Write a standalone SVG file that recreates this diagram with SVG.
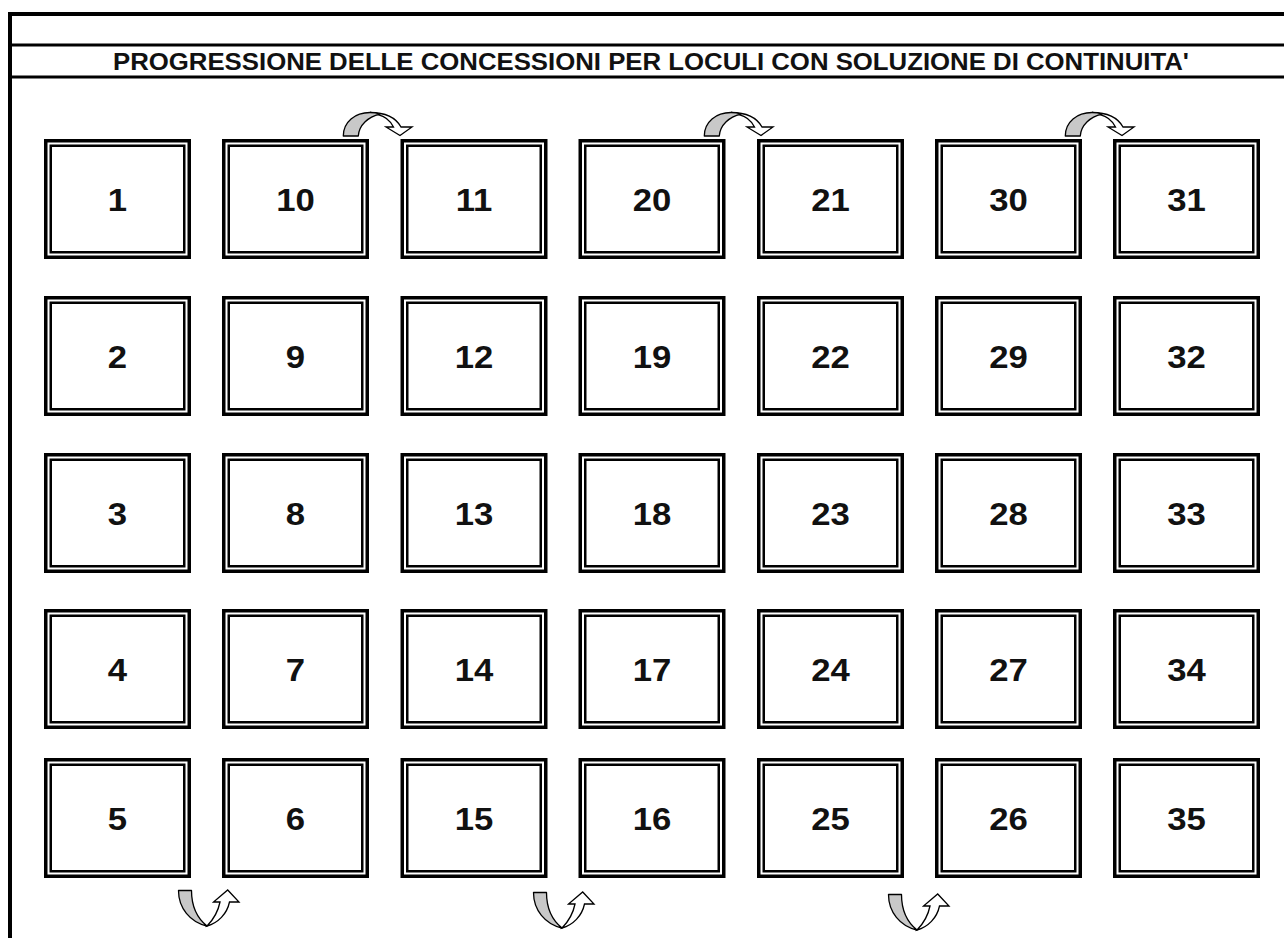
<svg xmlns="http://www.w3.org/2000/svg" xmlns:xlink="http://www.w3.org/1999/xlink" width="1284" height="938" viewBox="0 0 1284 938">
<style>
.bg{fill:#ffffff}
.rule{stroke:#000;fill:none}
.outer{fill:#fff;stroke:#000;stroke-width:3.5}
.inner{fill:none;stroke:#000;stroke-width:2.5}
.num{font-family:"Liberation Sans",Arial,sans-serif;font-weight:bold;font-size:31px;fill:#111;text-anchor:middle}
.title{font-family:"Liberation Sans",Arial,sans-serif;font-weight:bold;font-size:23px;fill:#111}
.gray{fill:#c8c8c8;stroke:#000;stroke-width:1.3;stroke-linejoin:round}
.white{fill:#fff;stroke:#000;stroke-width:1.3;stroke-linejoin:miter}
</style>
<defs>
<g id="frame">
<rect class="outer" x="1.75" y="1.75" width="143.5" height="116.5"/>
<rect class="inner" x="6.75" y="6.75" width="133.5" height="106.5"/>
</g>
<g id="arrowTop">
<path class="white" d="M370,112.5 C385,112.5 396,118 401,127 L412,127 L400,135.5 L386,127 L393.5,127 C390,120 384,116 378,114.6 Z"/>
<path class="gray" d="M343.3,136 C343.3,122 355,112.5 370,112.5 C374,112.5 377,113 380,114 C368,117 359,125 358.3,136 Z"/>
</g>
<g id="arrowBottom">
<path class="white" d="M207,926 C218,923 227,914 229.5,902 L239,902 L227.7,890 L213.5,902 L220,902 C218,912 213,920 207,926 Z"/>
<path class="gray" d="M178.5,890.5 L191.5,890.5 C191.5,905 197,918 207,926 C190,922 178.5,908 178.5,890.5 Z"/>
</g>
</defs>
<rect class="bg" x="0" y="0" width="1284" height="938"/>
<g id="sheet">
<line class="rule" x1="8" y1="14" x2="1284" y2="14" stroke-width="4"/>
<line class="rule" x1="10" y1="12" x2="10" y2="938" stroke-width="4"/>
<line class="rule" x1="10" y1="45" x2="1284" y2="45" stroke-width="3"/>
<line class="rule" x1="10" y1="77" x2="1284" y2="77" stroke-width="3"/>
<text class="title" x="113" y="69.5" textLength="1076" lengthAdjust="spacingAndGlyphs">PROGRESSIONE DELLE CONCESSIONI PER LOCULI CON SOLUZIONE DI CONTINUITA'</text>
</g>
<g id="nodes">
<g id="n1"><use xlink:href="#frame" x="44" y="139"/><text class="num" transform="translate(117.5,210.5) scale(1.12,1)">1</text></g>
<g id="n10"><use xlink:href="#frame" x="222" y="139"/><text class="num" transform="translate(295.5,210.5) scale(1.12,1)">10</text></g>
<g id="n11"><use xlink:href="#frame" x="400.5" y="139"/><text class="num" transform="translate(474,210.5) scale(1.12,1)">11</text></g>
<g id="n20"><use xlink:href="#frame" x="578.5" y="139"/><text class="num" transform="translate(652,210.5) scale(1.12,1)">20</text></g>
<g id="n21"><use xlink:href="#frame" x="757" y="139"/><text class="num" transform="translate(830.5,210.5) scale(1.12,1)">21</text></g>
<g id="n30"><use xlink:href="#frame" x="935" y="139"/><text class="num" transform="translate(1008.5,210.5) scale(1.12,1)">30</text></g>
<g id="n31"><use xlink:href="#frame" x="1113" y="139"/><text class="num" transform="translate(1186.5,210.5) scale(1.12,1)">31</text></g>

<g id="n2"><use xlink:href="#frame" x="44" y="296"/><text class="num" transform="translate(117.5,367.5) scale(1.12,1)">2</text></g>
<g id="n9"><use xlink:href="#frame" x="222" y="296"/><text class="num" transform="translate(295.5,367.5) scale(1.12,1)">9</text></g>
<g id="n12"><use xlink:href="#frame" x="400.5" y="296"/><text class="num" transform="translate(474,367.5) scale(1.12,1)">12</text></g>
<g id="n19"><use xlink:href="#frame" x="578.5" y="296"/><text class="num" transform="translate(652,367.5) scale(1.12,1)">19</text></g>
<g id="n22"><use xlink:href="#frame" x="757" y="296"/><text class="num" transform="translate(830.5,367.5) scale(1.12,1)">22</text></g>
<g id="n29"><use xlink:href="#frame" x="935" y="296"/><text class="num" transform="translate(1008.5,367.5) scale(1.12,1)">29</text></g>
<g id="n32"><use xlink:href="#frame" x="1113" y="296"/><text class="num" transform="translate(1186.5,367.5) scale(1.12,1)">32</text></g>

<g id="n3"><use xlink:href="#frame" x="44" y="453"/><text class="num" transform="translate(117.5,524.5) scale(1.12,1)">3</text></g>
<g id="n8"><use xlink:href="#frame" x="222" y="453"/><text class="num" transform="translate(295.5,524.5) scale(1.12,1)">8</text></g>
<g id="n13"><use xlink:href="#frame" x="400.5" y="453"/><text class="num" transform="translate(474,524.5) scale(1.12,1)">13</text></g>
<g id="n18"><use xlink:href="#frame" x="578.5" y="453"/><text class="num" transform="translate(652,524.5) scale(1.12,1)">18</text></g>
<g id="n23"><use xlink:href="#frame" x="757" y="453"/><text class="num" transform="translate(830.5,524.5) scale(1.12,1)">23</text></g>
<g id="n28"><use xlink:href="#frame" x="935" y="453"/><text class="num" transform="translate(1008.5,524.5) scale(1.12,1)">28</text></g>
<g id="n33"><use xlink:href="#frame" x="1113" y="453"/><text class="num" transform="translate(1186.5,524.5) scale(1.12,1)">33</text></g>

<g id="n4"><use xlink:href="#frame" x="44" y="609"/><text class="num" transform="translate(117.5,680.5) scale(1.12,1)">4</text></g>
<g id="n7"><use xlink:href="#frame" x="222" y="609"/><text class="num" transform="translate(295.5,680.5) scale(1.12,1)">7</text></g>
<g id="n14"><use xlink:href="#frame" x="400.5" y="609"/><text class="num" transform="translate(474,680.5) scale(1.12,1)">14</text></g>
<g id="n17"><use xlink:href="#frame" x="578.5" y="609"/><text class="num" transform="translate(652,680.5) scale(1.12,1)">17</text></g>
<g id="n24"><use xlink:href="#frame" x="757" y="609"/><text class="num" transform="translate(830.5,680.5) scale(1.12,1)">24</text></g>
<g id="n27"><use xlink:href="#frame" x="935" y="609"/><text class="num" transform="translate(1008.5,680.5) scale(1.12,1)">27</text></g>
<g id="n34"><use xlink:href="#frame" x="1113" y="609"/><text class="num" transform="translate(1186.5,680.5) scale(1.12,1)">34</text></g>

<g id="n5"><use xlink:href="#frame" x="44" y="758"/><text class="num" transform="translate(117.5,829.5) scale(1.12,1)">5</text></g>
<g id="n6"><use xlink:href="#frame" x="222" y="758"/><text class="num" transform="translate(295.5,829.5) scale(1.12,1)">6</text></g>
<g id="n15"><use xlink:href="#frame" x="400.5" y="758"/><text class="num" transform="translate(474,829.5) scale(1.12,1)">15</text></g>
<g id="n16"><use xlink:href="#frame" x="578.5" y="758"/><text class="num" transform="translate(652,829.5) scale(1.12,1)">16</text></g>
<g id="n25"><use xlink:href="#frame" x="757" y="758"/><text class="num" transform="translate(830.5,829.5) scale(1.12,1)">25</text></g>
<g id="n26"><use xlink:href="#frame" x="935" y="758"/><text class="num" transform="translate(1008.5,829.5) scale(1.12,1)">26</text></g>
<g id="n35"><use xlink:href="#frame" x="1113" y="758"/><text class="num" transform="translate(1186.5,829.5) scale(1.12,1)">35</text></g>
</g>
<g id="connectors">
<use xlink:href="#arrowTop"/>
<use xlink:href="#arrowTop" x="361"/>
<use xlink:href="#arrowTop" x="722"/>
<use xlink:href="#arrowBottom"/>
<use xlink:href="#arrowBottom" x="355" y="2"/>
<use xlink:href="#arrowBottom" x="710" y="4"/>
</g>
</svg>
